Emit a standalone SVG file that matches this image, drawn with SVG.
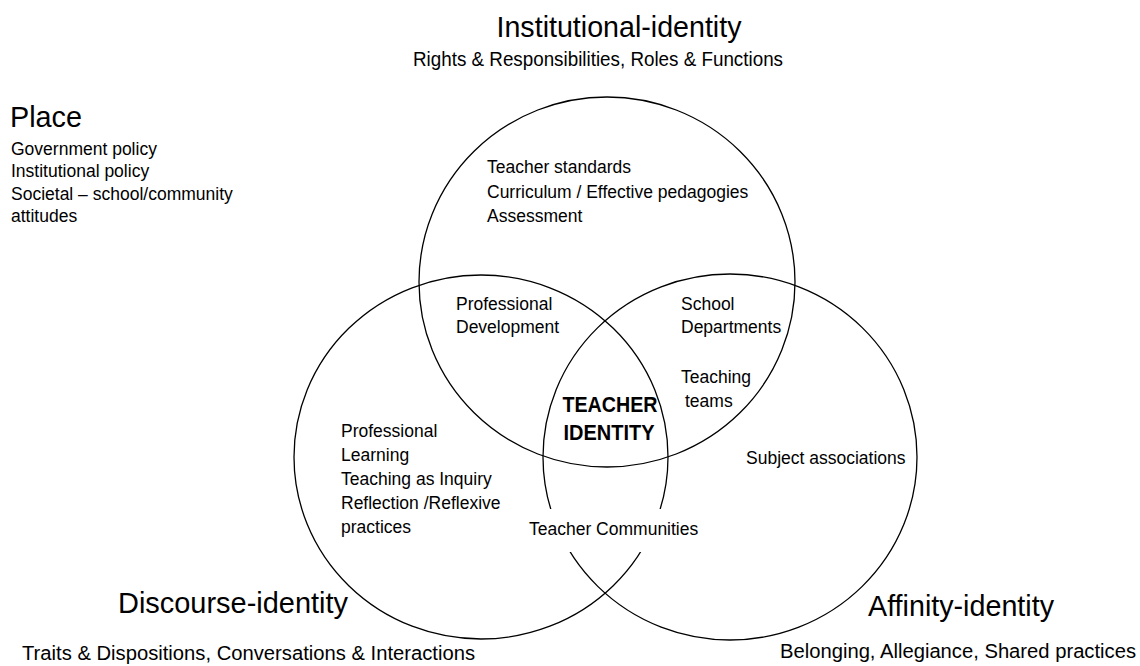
<svg xmlns="http://www.w3.org/2000/svg" width="1140" height="666" viewBox="0 0 1140 666">
<style>
text{font-family:"Liberation Sans",Arial,sans-serif;fill:#000}
.t{font-size:17.5px}
.h{font-size:30px}
.s{font-size:19.5px}
.b{font-weight:bold;font-size:22px}
.c{fill:none;stroke:#000;stroke-width:1.3}
</style>
<rect width="1140" height="666" fill="#fff"/>
<g id="circle-institutional"><ellipse class="c" cx="607" cy="282" rx="188" ry="185"/></g>
<g id="circle-discourse"><ellipse class="c" cx="481" cy="457" rx="187" ry="182"/></g>
<g id="circle-affinity"><ellipse class="c" cx="730" cy="457" rx="187" ry="183"/></g>

<g id="title-institutional">
<text class="h" x="619" y="37" text-anchor="middle" textLength="245" lengthAdjust="spacingAndGlyphs">Institutional-identity</text>
<text class="s" x="598" y="66" text-anchor="middle" textLength="370" lengthAdjust="spacingAndGlyphs">Rights &amp; Responsibilities, Roles &amp; Functions</text>
</g>
<g id="place">
<text class="h" x="10" y="127" textLength="72" lengthAdjust="spacingAndGlyphs">Place</text>
<text class="t" x="11" y="155">Government policy</text>
<text class="t" x="11" y="177">Institutional policy</text>
<text class="t" x="11" y="200">Societal – school/community</text>
<text class="t" x="11" y="222">attitudes</text>
</g>
<g id="institutional-only">
<text class="t" x="487" y="173">Teacher standards</text>
<text class="t" x="487" y="198">Curriculum / Effective pedagogies</text>
<text class="t" x="487" y="222">Assessment</text>
</g>
<g id="professional-development">
<text class="t" x="456" y="310">Professional</text>
<text class="t" x="456" y="333">Development</text>
</g>
<g id="school-departments">
<text class="t" x="681" y="310">School</text>
<text class="t" x="681" y="333">Departments</text>
<text class="t" x="681" y="383">Teaching</text>
<text class="t" x="685" y="407">teams</text>
</g>
<g id="teacher-identity">
<text class="b" x="610" y="412" text-anchor="middle" textLength="95" lengthAdjust="spacingAndGlyphs">TEACHER</text>
<text class="b" x="609" y="440" text-anchor="middle" textLength="91" lengthAdjust="spacingAndGlyphs">IDENTITY</text>
</g>
<g id="discourse-only">
<text class="t" x="341" y="437">Professional</text>
<text class="t" x="341" y="461">Learning</text>
<text class="t" x="341" y="485">Teaching as Inquiry</text>
<text class="t" x="341" y="509">Reflection /Reflexive</text>
<text class="t" x="341" y="533">practices</text>
</g>
<g id="teacher-communities">
<rect x="522" y="509" width="183" height="43" fill="#fff"/>
<text class="t" x="529" y="535">Teacher Communities</text>
</g>
<g id="affinity-only">
<text class="t" x="746" y="464">Subject associations</text>
</g>
<g id="title-discourse">
<text class="h" x="118" y="613" textLength="230" lengthAdjust="spacingAndGlyphs">Discourse-identity</text>
<text class="s" x="22" y="660" textLength="453" lengthAdjust="spacingAndGlyphs">Traits &amp; Dispositions, Conversations &amp; Interactions</text>
</g>
<g id="title-affinity">
<text class="h" x="868" y="616" textLength="186" lengthAdjust="spacingAndGlyphs">Affinity-identity</text>
<text class="s" x="780" y="658" textLength="356" lengthAdjust="spacingAndGlyphs">Belonging, Allegiance, Shared practices</text>
</g>
</svg>
